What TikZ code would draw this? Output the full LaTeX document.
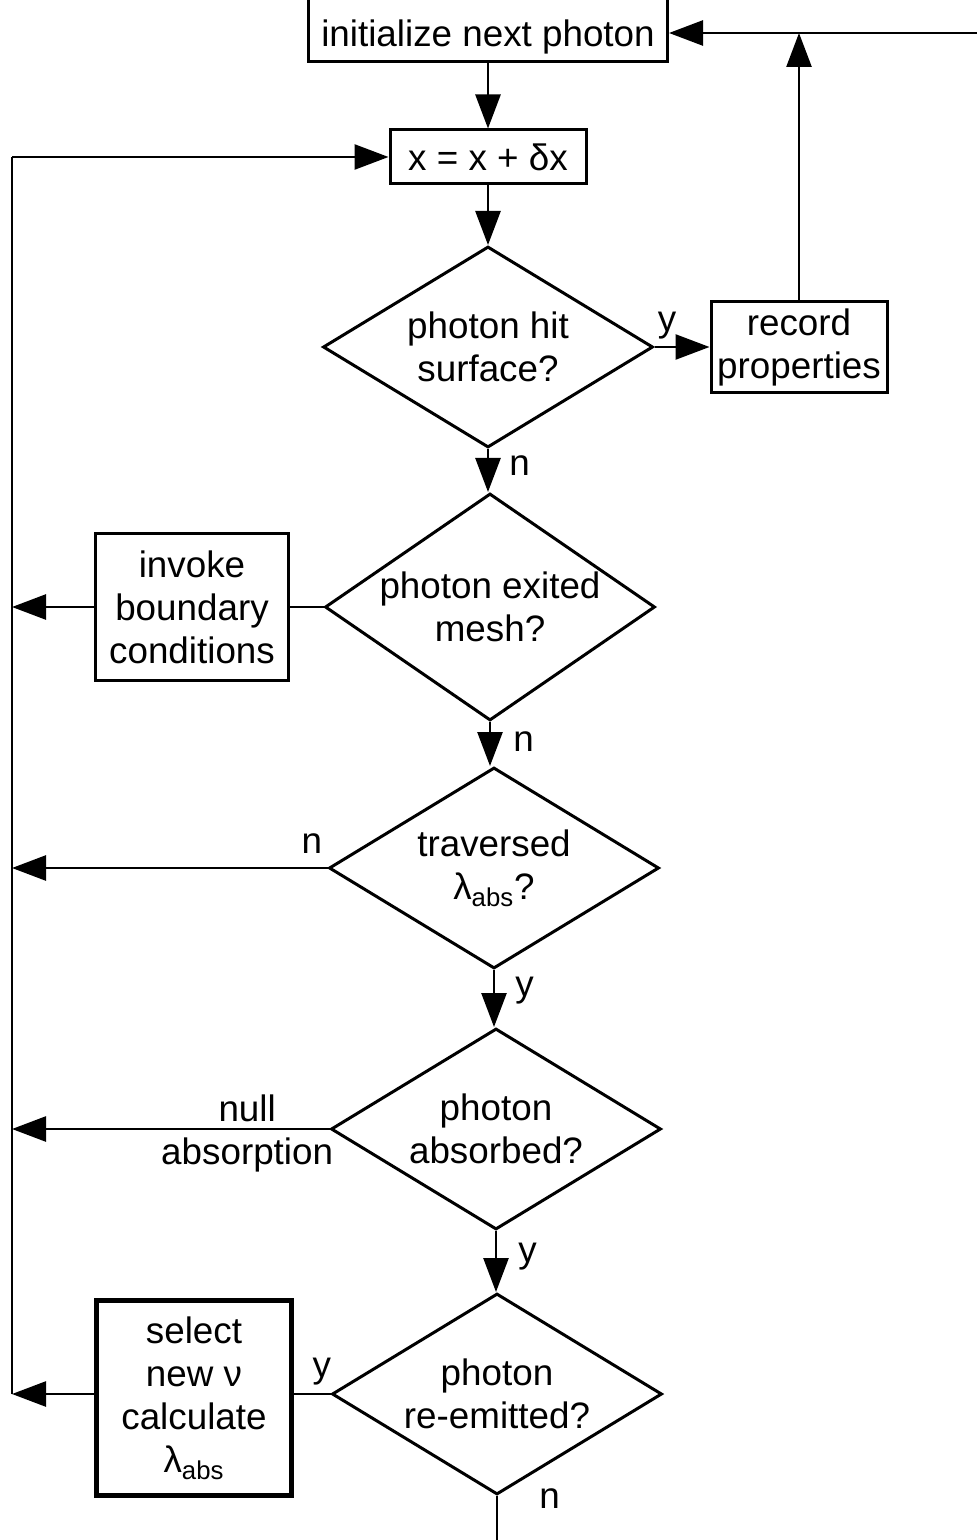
\documentclass[tikz,border=0pt]{standalone}
\usepackage{fontspec}
\setmainfont{Liberation Sans}
\usetikzlibrary{shapes.geometric,arrows.meta}

\tikzset{
  box/.style={draw, line width=1.5pt, inner sep=0pt, align=center},
  decide/.style={diamond, draw, line width=1.5pt, inner sep=-8pt, align=center,
    minimum width=165pt, minimum height=100.5pt},
  arr/.style={-{Triangle[length=17pt,width=12.5pt]}, line width=1.3pt},
  lbl/.style={inner sep=0pt},
}

\begin{document}
\begin{tikzpicture}[x=0.5pt, y=-0.5pt, font=\fontsize{18.4pt}{21.5pt}\selectfont]
	\useasboundingbox (0,0) rectangle (976,1540);

	% Process boxes
	\node[box, minimum width=179.5pt, minimum height=35pt, text height=23.4pt, text depth=3.9pt] (init) at (488,27) {initialize next photon};
	\node[box, minimum width=98pt, minimum height=27pt] (move) at (488,157) {x = x + δx};
	\node[box, minimum width=88pt, minimum height=45.5pt] (rec) at (799,347) {record\\properties};
	\node[box, minimum width=96.5pt, minimum height=73.5pt] (bnd) at (192,607) {invoke\\boundary\\conditions};
	\node[box, line width=2.5pt, minimum width=97.5pt, minimum height=97.5pt] (sel) at (194,1398) {select\\new ν\\calculate\\λ\textsubscript{abs}};

	% Decisions
	\node[decide] (hit) at (488,347) {photon hit\\surface?};
	\node[decide] (exit) at (490,607) {photon exited\\mesh?};
	\node[decide] (trav) at (494,868) {traversed\\λ\textsubscript{abs}?};
	\node[decide] (abs) at (496,1129) {photon\\absorbed?};
	\node[decide] (emit) at (497,1394) {photon\\re-emitted?};

	% Free ends
	\coordinate (inR) at (990,33); % comes in from the right
	\coordinate (lBot) at (12,1394); % foot of the return line
	\coordinate (outB) at (497,1560); % leaves at the bottom

	% Main column
	\draw[arr] (init) -- (move);
	\draw[arr] (move) -- (hit);
	\draw[arr] (hit.south) -- (hit.south |- exit.north);
	\draw[arr] (exit.south) -- (exit.south |- trav.north);
	\draw[arr] (trav.south) -- (trav.south |- abs.north);
	\draw[arr] (abs.south) -- (abs.south |- emit.north);
	\draw[line width=1.3pt] (emit.south) -- (outB);

	% Surface branch
	\draw[arr] (hit.east) -- (rec.west);
	\draw[arr] (rec.north) -- (rec.north |- inR);
	\draw[arr] (inR) -- (inR -| init.east);

	% Branches back to the left line
	\draw[line width=1.3pt] (exit.west) -- (bnd.east);
	\draw[arr] (bnd.west) -- (bnd.west -| lBot);
	\draw[arr] (trav.west) -- (trav.west -| lBot);
	\draw[arr] (abs.west) -- (abs.west -| lBot);
	\draw[line width=1.3pt] (emit.west) -- (emit.west -| sel.east);
	\draw[arr] (sel.west |- emit.west) -- (lBot);
	\draw[line width=1pt] (lBot) -- (lBot |- move.west);
	\draw[arr] (lBot |- move.west) -- (move.west);

	% Branch labels
	\node[lbl, anchor=base west] (yHit) at ([shift={(3,-15)}]hit.east) {y};
	\node[lbl, anchor=base west] (nHit) at ([shift={(21,26)}]hit.south) {n};
	\node[lbl, anchor=base west] (nExit) at ([shift={(23,29)}]exit.south) {n};
	\node[lbl, anchor=base east] (nTrav) at ([shift={(-5,-15)}]trav.west) {n};
	\node[lbl, anchor=base west] (yTrav) at ([shift={(21,26)}]trav.south) {y};
	\node[lbl, anchor=east, align=center] (nAbs) at ([shift={(4,4)}]abs.west) {null\\absorption};
	\node[lbl, anchor=base west] (yAbs) at ([shift={(22,31)}]abs.south) {y};
	\node[lbl, anchor=base east] (yEmit) at ([shift={(1,-17)}]emit.west) {y};
	\node[lbl, anchor=base west] (nEmit) at ([shift={(42,12)}]emit.south) {n};
\end{tikzpicture}
\end{document}
